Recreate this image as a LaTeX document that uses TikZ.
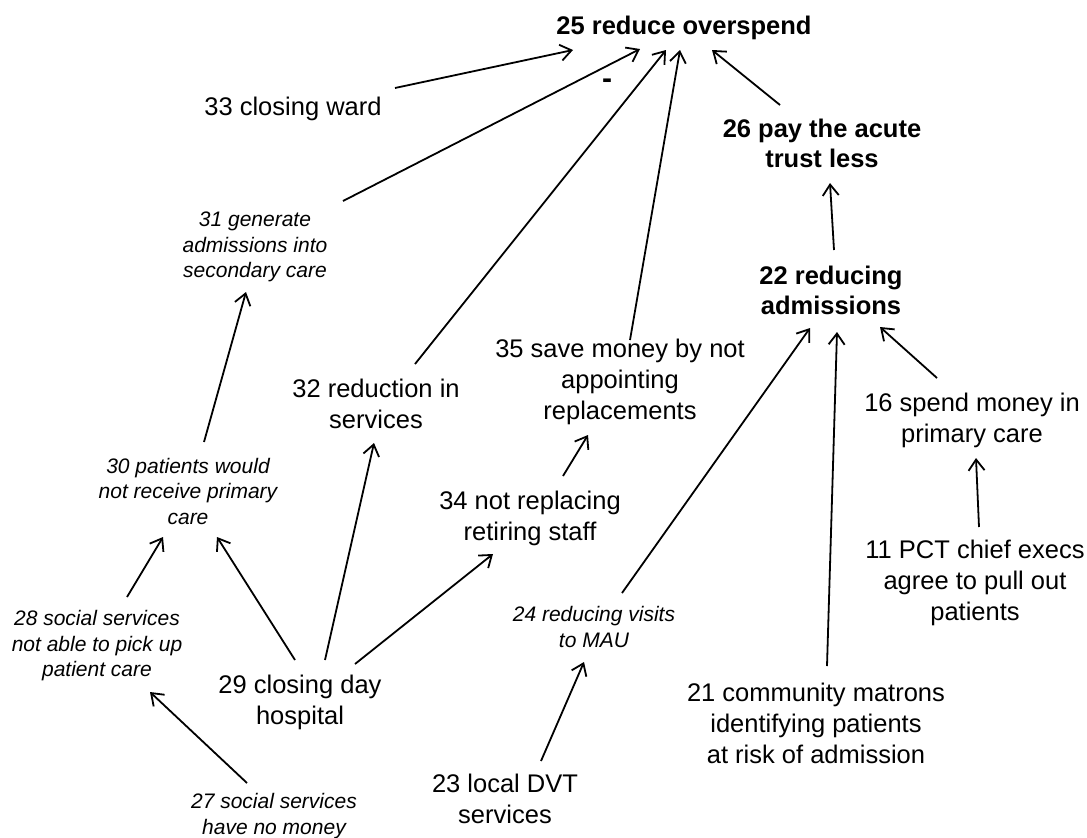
\documentclass[tikz,border=0pt]{standalone}
\usepackage{fontspec}
\setmainfont{Liberation Sans}
\usetikzlibrary{arrows.meta}

\begin{document}
\begin{tikzpicture}[x=1pt, y=-1pt, >={Straight Barb[length=11pt,width=16pt]},
    cause/.style={align=center, inner sep=0pt, font=\fontsize{25.5}{31}\selectfont},
    goal/.style={align=center, inner sep=0pt, font=\fontsize{25.5}{30}\selectfont\bfseries},
    claim/.style={align=center, inner sep=0pt, font=\fontsize{21}{25.5}\selectfont\itshape},
    link/.style={->, line width=1.8pt}]
    \useasboundingbox (0,0) rectangle (1087,838);

    % Ziele oben
    \node[goal] (n25) at (684,28) {25 reduce overspend};
    \node[goal] (n26) at (822,143) {26 pay the acute\\trust less};
    \node[goal] (n22) at (831,290) {22 reducing\\admissions};
    \node[goal, font=\fontsize{30}{30}\selectfont\bfseries] (minus) at (607,84) {-};

    % Linke Seite
    \node[cause] (n33) at (293,109) {33 closing ward};
    \node[claim] (n31) at (255,247) {31 generate\\admissions into\\secondary care};
    \node[claim] (n30) at (188,491) {30 patients would\\not receive primary\\care};
    \node[claim] (n28) at (97,646) {28 social services\\not able to pick up\\patient care};
    \node[claim] (n27) at (274,816) {27 social services\\have no money};
    \node[cause] (n29) at (300,702) {29 closing day\\hospital};
    \node[cause] (n32) at (376,404) {32 reduction in\\services};

    % Mitte
    \node[cause] (n35) at (620,382) {35 save money by not\\appointing\\replacements};
    \node[cause] (n34) at (530,518) {34 not replacing\\retiring staff};
    \node[claim] (n24) at (594,627) {24 reducing visits\\to MAU};
    \node[cause] (n23) at (505,799) {23 local DVT\\services};

    % Rechte Seite
    \node[cause] (n16) at (972,420) {16 spend money in\\primary care};
    \node[cause] (n11) at (975,583) {11 PCT chief execs\\agree to pull out\\patients};
    \node[cause] (n21) at (816,723) {21 community matrons\\identifying patients\\at risk of admission};

    % Pfeile zu 25
    \draw[link] ([shift={(102,-21)}]n33.center) -- ([shift={(-111,22)}]n25.center);
    \draw[link] ([shift={(88,-46)}]n31.center) -- ([shift={(-44,21)}]n25.center);
    \draw[link] ([shift={(39,-40)}]n32.center) -- ([shift={(-18,22)}]n25.center);
    \draw[link] ([shift={(10,-42)}]n35.center) -- ([shift={(-4,22)}]n25.center);
    \draw[link] ([shift={(-42,-38)}]n26.center) -- ([shift={(28,22)}]n25.center);

    % Pfeile rechts
    \draw[link] ([shift={(3,-40)}]n22.center) -- ([shift={(8,40)}]n26.center);
    \draw[link] ([shift={(-35,-42)}]n16.center) -- ([shift={(49,37)}]n22.center);
    \draw[link] ([shift={(4,-56)}]n11.center) -- ([shift={(4,38)}]n16.center);
    \draw[link] ([shift={(28,-34)}]n24.center) -- ([shift={(-21,38)}]n22.center);
    \draw[link] ([shift={(11,-57)}]n21.center) -- ([shift={(6,42)}]n22.center);
    \draw[link] ([shift={(36,-38)}]n23.center) -- ([shift={(-10,35)}]n24.center);

    % Pfeile links und Mitte
    \draw[link] ([shift={(33,-42)}]n34.center) -- ([shift={(-32,53)}]n35.center);
    \draw[link] ([shift={(55,-38)}]n29.center) -- ([shift={(-37,36)}]n34.center);
    \draw[link] ([shift={(25,-42)}]n29.center) -- ([shift={(-2,39)}]n32.center);
    \draw[link] ([shift={(-5,-42)}]n29.center) -- ([shift={(29,46)}]n30.center);
    \draw[link] ([shift={(30,-49)}]n28.center) -- ([shift={(-25,46)}]n30.center);
    \draw[link] ([shift={(-27,-33)}]n27.center) -- ([shift={(53,46)}]n28.center);
    \draw[link] ([shift={(16,-49)}]n30.center) -- ([shift={(-9,45)}]n31.center);
\end{tikzpicture}
\end{document}
